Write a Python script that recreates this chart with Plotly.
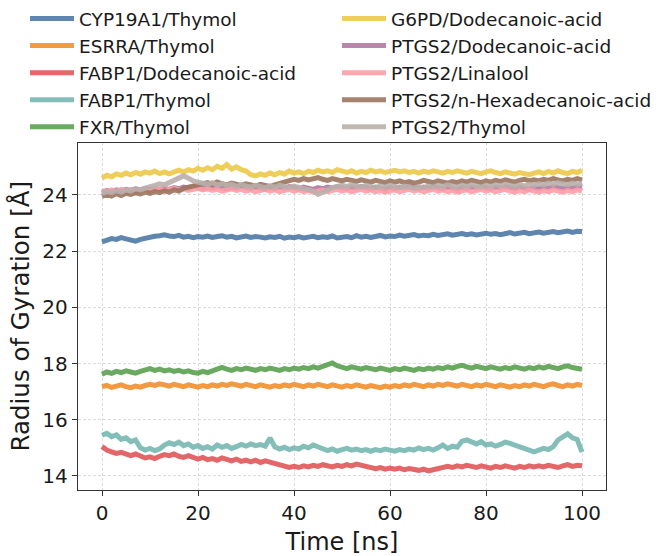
import plotly.graph_objects as go

time_ns = list(range(0, 101))

names = ["CYP19A1/Thymol", "ESRRA/Thymol", "FABP1/Dodecanoic-acid", "FABP1/Thymol", "FXR/Thymol",
         "G6PD/Dodecanoic-acid", "PTGS2/Dodecanoic-acid", "PTGS2/Linalool",
         "PTGS2/n-Hexadecanoic-acid", "PTGS2/Thymol"]
colors = ["#4E79A7", "#F28E2B", "#E15759", "#76B7B2", "#59A14F",
          "#EDC948", "#B07AA1", "#FF9DA7", "#9C755F", "#BAB0AC"]

cyp19a1_thymol = [22.33, 22.40, 22.45, 22.42, 22.48, 22.44, 22.40, 22.36, 22.42, 22.47, 22.50,
                  22.53, 22.55, 22.58, 22.54, 22.52, 22.56, 22.50, 22.53, 22.48, 22.52,
                  22.50, 22.54, 22.49, 22.52, 22.55, 22.50, 22.53, 22.47, 22.51, 22.54,
                  22.49, 22.52, 22.50, 22.47, 22.51, 22.49, 22.53, 22.46, 22.50, 22.48,
                  22.52, 22.47, 22.50, 22.53, 22.48, 22.51, 22.49, 22.54, 22.47, 22.50,
                  22.52, 22.48, 22.55, 22.50, 22.53, 22.49, 22.52, 22.56, 22.51, 22.54,
                  22.52, 22.57, 22.53, 22.55, 22.59, 22.54, 22.57, 22.55, 22.60, 22.56,
                  22.58, 22.62, 22.57, 22.60, 22.63, 22.59, 22.62, 22.58, 22.61, 22.64,
                  22.60, 22.63, 22.59, 22.62, 22.66, 22.61, 22.64, 22.67, 22.62, 22.65,
                  22.68, 22.64, 22.67, 22.70, 22.66, 22.69, 22.72, 22.67, 22.71, 22.70]

esrra_thymol = [17.18, 17.22, 17.15, 17.20, 17.24, 17.18, 17.14, 17.20, 17.16, 17.22, 17.26,
                17.22, 17.28, 17.24, 17.20, 17.26, 17.22, 17.18, 17.24, 17.20, 17.16,
                17.22, 17.18, 17.24, 17.20, 17.26, 17.22, 17.28, 17.24, 17.20, 17.26,
                17.22, 17.18, 17.24, 17.20, 17.16, 17.22, 17.18, 17.24, 17.20, 17.26,
                17.22, 17.18, 17.24, 17.20, 17.26, 17.22, 17.18, 17.24, 17.20, 17.16,
                17.22, 17.18, 17.24, 17.20, 17.16, 17.22, 17.18, 17.14, 17.20, 17.16,
                17.22, 17.18, 17.24, 17.20, 17.26, 17.22, 17.18, 17.24, 17.20, 17.26,
                17.22, 17.28, 17.24, 17.20, 17.26, 17.22, 17.18, 17.24, 17.20, 17.26,
                17.22, 17.18, 17.24, 17.20, 17.16, 17.22, 17.18, 17.24, 17.20, 17.26,
                17.22, 17.18, 17.24, 17.28, 17.22, 17.18, 17.24, 17.20, 17.26, 17.22]

fabp1_dodecanoic = [15.05, 14.92, 14.86, 14.80, 14.84, 14.76, 14.72, 14.78, 14.70, 14.64, 14.68,
                    14.62, 14.70, 14.76, 14.72, 14.78, 14.70, 14.66, 14.72, 14.64, 14.60,
                    14.66, 14.58, 14.62, 14.56, 14.64, 14.58, 14.54, 14.60, 14.52, 14.56,
                    14.50, 14.56, 14.48, 14.54, 14.50, 14.46, 14.40, 14.34, 14.30, 14.34,
                    14.30, 14.36, 14.32, 14.38, 14.34, 14.40, 14.36, 14.32, 14.38, 14.34,
                    14.40, 14.36, 14.42, 14.38, 14.34, 14.30, 14.26, 14.30, 14.24, 14.28,
                    14.24, 14.28, 14.22, 14.26, 14.22, 14.20, 14.24, 14.18, 14.22, 14.26,
                    14.30, 14.34, 14.30, 14.36, 14.32, 14.38, 14.34, 14.30, 14.36, 14.32,
                    14.28, 14.34, 14.30, 14.36, 14.32, 14.28, 14.34, 14.30, 14.36, 14.32,
                    14.36, 14.32, 14.38, 14.34, 14.30, 14.36, 14.40, 14.34, 14.38, 14.36]

fabp1_thymol = [15.45, 15.52, 15.40, 15.46, 15.30, 15.36, 15.22, 15.28, 15.00, 14.92, 14.98,
                14.90, 14.96, 15.10, 15.18, 15.12, 15.20, 15.08, 15.14, 15.02, 15.08,
                14.98, 15.04, 14.96, 15.10, 15.02, 15.08, 14.98, 15.04, 15.12, 15.06,
                15.14, 15.08, 15.12, 15.06, 15.35, 15.04, 14.96, 15.02, 14.94, 15.00,
                14.96, 15.06, 15.00, 15.10, 15.02, 14.96, 14.90, 14.96, 14.88, 14.94,
                14.98, 14.92, 14.96, 14.90, 14.94, 14.88, 14.94, 14.90, 14.96, 14.92,
                14.88, 14.94, 14.90, 14.96, 14.92, 15.00, 14.94, 14.98, 14.92, 15.00,
                15.10, 14.98, 15.06, 15.02, 15.24, 15.28, 15.20, 15.14, 15.22, 15.10,
                15.14, 15.06, 15.12, 15.20, 15.16, 15.10, 15.04, 14.96, 14.90, 14.86,
                14.92, 14.98, 14.94, 15.04, 15.28, 15.40, 15.50, 15.36, 15.30, 14.85]

fxr_thymol = [17.62, 17.70, 17.65, 17.72, 17.68, 17.74, 17.70, 17.66, 17.72, 17.78, 17.82,
              17.76, 17.80, 17.74, 17.78, 17.72, 17.76, 17.70, 17.74, 17.68, 17.66,
              17.72, 17.68, 17.74, 17.80, 17.86, 17.80, 17.76, 17.82, 17.78, 17.84,
              17.80, 17.76, 17.82, 17.78, 17.84, 17.80, 17.76, 17.82, 17.78, 17.84,
              17.80, 17.86, 17.82, 17.88, 17.84, 17.90, 17.96, 18.02, 17.92, 17.86,
              17.82, 17.88, 17.84, 17.80, 17.86, 17.82, 17.78, 17.84, 17.80, 17.76,
              17.82, 17.78, 17.84, 17.80, 17.76, 17.82, 17.78, 17.84, 17.80, 17.86,
              17.82, 17.88, 17.84, 17.90, 17.94, 17.88, 17.84, 17.90, 17.86, 17.82,
              17.88, 17.84, 17.80, 17.86, 17.82, 17.88, 17.84, 17.80, 17.86, 17.82,
              17.88, 17.84, 17.90, 17.86, 17.82, 17.88, 17.92, 17.86, 17.82, 17.80]

g6pd_dodecanoic = [24.60, 24.70, 24.65, 24.75, 24.70, 24.78, 24.72, 24.80, 24.74, 24.82, 24.78,
                   24.85, 24.76, 24.82, 24.75, 24.80, 24.88, 24.82, 24.90, 24.85, 24.95,
                   24.88, 24.97, 24.90, 25.02, 24.95, 25.08, 24.92, 25.00, 24.90, 24.85,
                   24.72, 24.68, 24.75, 24.70, 24.78, 24.72, 24.80, 24.74, 24.85, 24.78,
                   24.82, 24.76, 24.85, 24.80, 24.88, 24.82, 24.86, 24.80, 24.90, 24.84,
                   24.80, 24.86, 24.78, 24.84, 24.80, 24.88, 24.82, 24.86, 24.80, 24.84,
                   24.88, 24.82, 24.86, 24.80, 24.84, 24.78, 24.85, 24.80, 24.86, 24.82,
                   24.78, 24.84, 24.80, 24.86, 24.82, 24.78, 24.84, 24.80, 24.76, 24.82,
                   24.86, 24.80, 24.76, 24.82, 24.78, 24.74, 24.80, 24.76, 24.72, 24.78,
                   24.82, 24.76, 24.84, 24.78, 24.86, 24.80, 24.76, 24.84, 24.80, 24.88]

ptgs2_dodecanoic = [24.10, 24.16, 24.12, 24.18, 24.14, 24.20, 24.16, 24.22, 24.18, 24.24, 24.20,
                    24.22, 24.18, 24.24, 24.20, 24.26, 24.22, 24.28, 24.24, 24.30, 24.26,
                    24.22, 24.28, 24.24, 24.30, 24.26, 24.22, 24.28, 24.24, 24.30, 24.26,
                    24.22, 24.28, 24.24, 24.20, 24.26, 24.22, 24.28, 24.24, 24.30, 24.26,
                    24.22, 24.28, 24.24, 24.20, 24.26, 24.22, 24.28, 24.24, 24.30, 24.26,
                    24.22, 24.28, 24.24, 24.30, 24.26, 24.22, 24.28, 24.24, 24.20, 24.26,
                    24.22, 24.28, 24.24, 24.30, 24.26, 24.22, 24.28, 24.24, 24.30, 24.26,
                    24.22, 24.28, 24.24, 24.20, 24.26, 24.22, 24.28, 24.24, 24.30, 24.26,
                    24.22, 24.28, 24.24, 24.30, 24.26, 24.22, 24.28, 24.24, 24.20, 24.26,
                    24.22, 24.28, 24.24, 24.30, 24.26, 24.22, 24.28, 24.24, 24.30, 24.26]

ptgs2_linalool = [24.15, 24.10, 24.18, 24.12, 24.20, 24.14, 24.18, 24.12, 24.16, 24.20, 24.14,
                  24.18, 24.22, 24.16, 24.20, 24.24, 24.18, 24.22, 24.16, 24.20, 24.24,
                  24.18, 24.22, 24.16, 24.20, 24.14, 24.18, 24.22, 24.16, 24.20, 24.14,
                  24.18, 24.12, 24.16, 24.20, 24.14, 24.18, 24.12, 24.16, 24.20, 24.14,
                  24.18, 24.12, 24.16, 24.10, 24.14, 24.18, 24.12, 24.16, 24.20, 24.14,
                  24.18, 24.12, 24.16, 24.20, 24.14, 24.18, 24.12, 24.16, 24.10, 24.14,
                  24.18, 24.12, 24.16, 24.20, 24.14, 24.18, 24.12, 24.16, 24.20, 24.14,
                  24.18, 24.12, 24.16, 24.10, 24.14, 24.18, 24.12, 24.16, 24.20, 24.14,
                  24.18, 24.12, 24.16, 24.20, 24.14, 24.10, 24.16, 24.12, 24.18, 24.14,
                  24.10, 24.16, 24.12, 24.18, 24.14, 24.10, 24.16, 24.12, 24.18, 24.14]

ptgs2_hexadecanoic = [23.95, 24.02, 23.96, 24.05, 23.98, 24.06, 24.02, 24.08, 24.04, 24.10, 24.06,
                      24.12, 24.08, 24.15, 24.10, 24.18, 24.14, 24.24, 24.28, 24.32, 24.36,
                      24.40, 24.44, 24.38, 24.46, 24.40, 24.36, 24.42, 24.38, 24.34, 24.40,
                      24.36, 24.32, 24.38, 24.34, 24.30, 24.36, 24.42, 24.48, 24.52, 24.56,
                      24.52, 24.58, 24.54, 24.60, 24.62, 24.56, 24.52, 24.58, 24.54, 24.50,
                      24.56, 24.52, 24.48, 24.54, 24.50, 24.46, 24.52, 24.48, 24.44, 24.50,
                      24.46, 24.50, 24.44, 24.48, 24.42, 24.46, 24.52, 24.48, 24.44, 24.50,
                      24.46, 24.42, 24.48, 24.44, 24.50, 24.46, 24.52, 24.48, 24.44, 24.50,
                      24.46, 24.52, 24.48, 24.54, 24.50, 24.46, 24.52, 24.56, 24.50, 24.54,
                      24.50, 24.56, 24.52, 24.58, 24.54, 24.50, 24.56, 24.52, 24.58, 24.54]

ptgs2_thymol = [24.05, 24.12, 24.08, 24.15, 24.10, 24.18, 24.14, 24.22, 24.18, 24.26, 24.30,
                24.34, 24.40, 24.36, 24.44, 24.50, 24.56, 24.68, 24.60, 24.50, 24.46,
                24.42, 24.38, 24.44, 24.36, 24.40, 24.34, 24.38, 24.30, 24.36, 24.32,
                24.28, 24.34, 24.30, 24.26, 24.32, 24.28, 24.34, 24.30, 24.26, 24.32,
                24.28, 24.24, 24.20, 24.14, 24.02, 24.10, 24.20, 24.26, 24.30, 24.34,
                24.30, 24.36, 24.32, 24.28, 24.34, 24.30, 24.26, 24.32, 24.28, 24.34,
                24.30, 24.26, 24.32, 24.28, 24.24, 24.30, 24.26, 24.32, 24.28, 24.34,
                24.30, 24.36, 24.32, 24.28, 24.34, 24.30, 24.36, 24.32, 24.28, 24.34,
                24.30, 24.36, 24.32, 24.38, 24.34, 24.30, 24.36, 24.32, 24.38, 24.34,
                24.40, 24.36, 24.42, 24.38, 24.44, 24.40, 24.36, 24.42, 24.38, 24.40]

series = [cyp19a1_thymol, esrra_thymol, fabp1_dodecanoic, fabp1_thymol, fxr_thymol,
          g6pd_dodecanoic, ptgs2_dodecanoic, ptgs2_linalool, ptgs2_hexadecanoic, ptgs2_thymol]

fig = go.Figure()
for i, (n, c, y) in enumerate(zip(names, colors, series)):
    fig.add_trace(go.Scatter(x=time_ns, y=y, mode="lines", name=n,
                             line=dict(color=c, width=5), opacity=0.9,
                             legend="legend" if i < 5 else "legend2"))

axis_common = dict(showline=True, linecolor="#333333", linewidth=1.4, mirror=True,
                   ticks="outside", ticklen=5, tickwidth=1.3, tickcolor="#333333",
                   showgrid=True, gridcolor="#dcdcdc", griddash="3px,2px", gridwidth=0.8,
                   zeroline=False, tickfont=dict(size=20, color="#1a1a1a"))

legend_common = dict(xanchor="left", xref="container", yref="container",
                     y=1.0 + 1 / 556, yanchor="top",
                     font=dict(size=18.5), itemwidth=44, traceorder="normal",
                     bgcolor="rgba(0,0,0,0)")

plot_left, plot_width = 78, 528

fig.update_layout(
    width=658, height=556,
    margin=dict(l=plot_left, r=52, t=143, b=66, autoexpand=False),
    paper_bgcolor="white", plot_bgcolor="white",
    font=dict(family="DejaVu Sans", color="#1a1a1a"),
    showlegend=True,
    legend=dict(x=25 / 658, **legend_common),
    legend2=dict(x=337 / 658, **legend_common),
    xaxis=dict(range=[-5, 105], tickvals=[0, 20, 40, 60, 80, 100],
               title=dict(text="Time [ns]", font=dict(size=24)), **axis_common),
    yaxis=dict(range=[13.5, 25.85], tickvals=[14, 16, 18, 20, 22, 24], **axis_common),
    annotations=[dict(text="Radius of Gyration [Å]", textangle=-90, showarrow=False,
                      xref="paper", yref="paper", x=(20 - plot_left) / plot_width, y=0.5,
                      xanchor="center", yanchor="middle",
                      font=dict(size=24.5, color="#1a1a1a", family="DejaVu Sans"))],
)

fig.write_html("out.html")
